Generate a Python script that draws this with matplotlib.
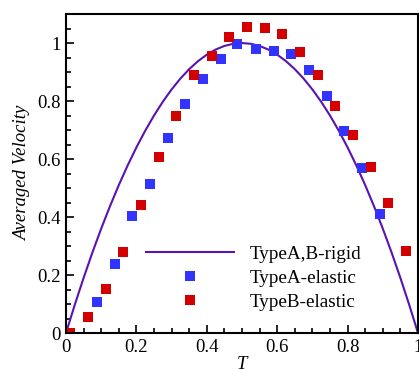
import matplotlib
matplotlib.use("Agg")
import matplotlib.pyplot as plt
from matplotlib.ticker import MultipleLocator

# rigid curve
rigid_T = [0.0, 0.025, 0.05, 0.075, 0.1, 0.125, 0.15, 0.175, 0.2, 0.225, 0.25,
           0.275, 0.3, 0.325, 0.35, 0.375, 0.4, 0.425, 0.45, 0.475, 0.5,
           0.525, 0.55, 0.575, 0.6, 0.625, 0.65, 0.675, 0.7, 0.725, 0.75,
           0.775, 0.8, 0.825, 0.85, 0.875, 0.9, 0.925, 0.95, 0.975, 1.0]
rigid_V = [0.0, 0.0975, 0.19, 0.2775, 0.36, 0.4375, 0.51, 0.5775, 0.64, 0.6975, 0.75,
           0.7975, 0.84, 0.8775, 0.91, 0.9375, 0.96, 0.9775, 0.99, 0.9975, 1.0,
           0.9975, 0.99, 0.9775, 0.96, 0.9375, 0.91, 0.8775, 0.84, 0.7975, 0.75,
           0.6975, 0.64, 0.5775, 0.51, 0.4375, 0.36, 0.2775, 0.19, 0.0975, 0.0]

typeA_T = [0.087, 0.139, 0.188, 0.239, 0.289, 0.337, 0.388, 0.440, 0.485,
           0.539, 0.590, 0.638, 0.690, 0.741, 0.789, 0.840, 0.891]
typeA_V = [0.108, 0.238, 0.404, 0.515, 0.671, 0.791, 0.875, 0.945, 0.996,
           0.978, 0.974, 0.961, 0.906, 0.816, 0.697, 0.568, 0.412]

typeB_T = [0.011, 0.0625, 0.114, 0.162, 0.213, 0.264, 0.312, 0.364, 0.415, 0.462,
           0.513, 0.564, 0.613, 0.665, 0.715, 0.764, 0.815, 0.866, 0.914, 0.965]
typeB_V = [0.001, 0.056, 0.153, 0.281, 0.443, 0.606, 0.750, 0.889, 0.956, 1.022,
           1.055, 1.052, 1.030, 0.970, 0.889, 0.782, 0.682, 0.571, 0.450, 0.284]

labels = ["TypeA,B-rigid", "TypeA-elastic", "TypeB-elastic"]

plt.rcParams['font.family'] = ['Liberation Serif', 'DejaVu Serif']
plt.rcParams['mathtext.fontset'] = 'stix'

fig = plt.figure(figsize=(4.19, 3.70), dpi=100)
ax = fig.add_axes([0.1575, 0.1, 0.8401, 0.862])

ax.plot(rigid_T, rigid_V, color='#5a12b0', lw=1.5, label=labels[0])
ax.plot(typeA_T, typeA_V, 's', color='#3333ff', ms=7.2, mew=0, label=labels[1])
ax.plot(typeB_T, typeB_V, 's', color='#d40000', ms=7.2, mew=0, label=labels[2])

ax.set_xlim(0, 1)
ax.set_ylim(0, 1.1)
ax.xaxis.set_major_locator(MultipleLocator(0.2))
ax.xaxis.set_minor_locator(MultipleLocator(0.05))
ax.yaxis.set_major_locator(MultipleLocator(0.2))
ax.yaxis.set_minor_locator(MultipleLocator(0.05))
ax.xaxis.set_major_formatter(plt.FuncFormatter(lambda v, p: f"{v:g}"))
ax.yaxis.set_major_formatter(plt.FuncFormatter(lambda v, p: f"{v:g}"))
ax.tick_params(which='both', direction='in', top=False, right=False, labelsize=13.5, width=1.2)
ax.tick_params(which='major', length=5.8, pad=4)
ax.tick_params(which='minor', length=3.6)
for s in ax.spines.values():
    s.set_linewidth(1.5)

ax.set_xlabel("T", style='italic', fontsize=13.5, labelpad=0)
ax.set_ylabel("Averaged Velocity", style='italic', fontsize=13.5, labelpad=4)

leg = ax.legend(loc='lower left', bbox_to_anchor=(0.228, 0.07), frameon=False,
                fontsize=13.8, handlelength=4.6, handletextpad=0.8,
                labelspacing=0.33, borderaxespad=0, borderpad=0)

fig.savefig("out.png", dpi=100)
